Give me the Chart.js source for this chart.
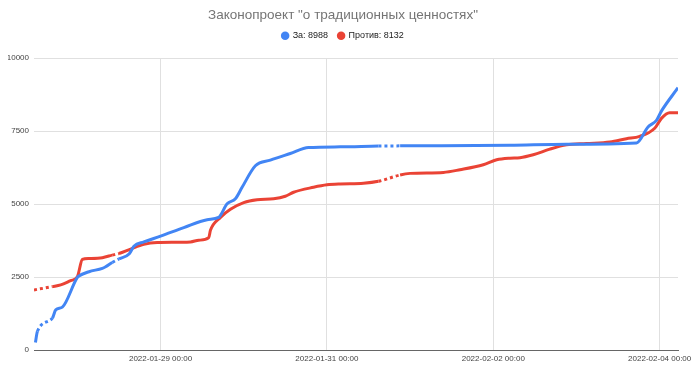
<!DOCTYPE html>
<html>
<head>
<meta charset="utf-8">
<script src="https://cdn.jsdelivr.net/npm/chart.js@4"></script>
<style>
  html, body { margin: 0; padding: 0; background: #fff; }
  #wrap { width: 700px; height: 370px; }
</style>
</head>
<body>
<div id="wrap"><canvas id="chart"></canvas></div>
<script>
// values; null = no data (drawn dotted)
const seriesNames = ["За: 8988", "Против: 8132"];

const zaTimes = [
  "2022-01-27 11:55", "2022-01-27 12:29", "2022-01-27 14:40", "2022-01-27 16:49",
  "2022-01-27 17:46", "2022-01-27 19:41", "2022-01-28 00:01", "2022-01-28 00:28",
  "2022-01-28 03:21", "2022-01-28 07:13", "2022-01-28 08:10", "2022-01-28 10:05",
  "2022-01-28 11:00", "2022-01-28 12:01", "2022-01-28 15:00", "2022-01-28 16:19",
  "2022-01-28 19:11", "2022-01-29 00:00", "2022-01-29 06:43", "2022-01-29 13:27",
  "2022-01-29 16:47", "2022-01-29 19:13", "2022-01-29 21:36", "2022-01-29 23:32",
  "2022-01-30 03:22", "2022-01-30 07:41", "2022-01-30 13:26", "2022-01-30 18:43",
  "2022-01-31 03:50", "2022-01-31 14:52", "2022-01-31 18:00", "2022-01-31 21:07",
  "2022-02-02 04:48", "2022-02-02 21:08", "2022-02-03 17:18", "2022-02-03 20:38",
  "2022-02-03 23:04", "2022-02-04 00:30", "2022-02-04 05:17"
];
const zaValues = [
  255, 640, null, 1095,
  1378, 1470, 2490, 2536,
  2683, 2798, 2853, 3000,
  null, 3120, 3300, 3557,
  3704, 3900, 4194, 4467,
  4545, 5010, 5180, 5576,
  6315, 6508, 6734, 6938,
  6962, 6990, null, 6996,
  7020, 7053, 7095, 7643,
  7870, 8187, 8988
];

const protivTimes = [
  "2022-01-27 11:30", "2022-01-27 14:00", "2022-01-27 16:49", "2022-01-27 19:12",
  "2022-01-27 22:05", "2022-01-28 00:01", "2022-01-28 01:27", "2022-01-28 03:21",
  "2022-01-28 07:13", "2022-01-28 10:05", "2022-01-28 11:00", "2022-01-28 12:01",
  "2022-01-28 15:22", "2022-01-28 19:11", "2022-01-28 23:03", "2022-01-29 08:38",
  "2022-01-29 11:02", "2022-01-29 13:55", "2022-01-29 14:24", "2022-01-29 17:17",
  "2022-01-29 20:10", "2022-01-30 00:00", "2022-01-30 03:51", "2022-01-30 08:38",
  "2022-01-30 12:00", "2022-01-30 14:23", "2022-01-30 20:09", "2022-01-31 00:01",
  "2022-01-31 03:50", "2022-01-31 10:33", "2022-01-31 14:52", "2022-01-31 18:00",
  "2022-01-31 21:07", "2022-02-01 00:00", "2022-02-01 09:36", "2022-02-01 14:24",
  "2022-02-01 21:07", "2022-02-02 00:58", "2022-02-02 04:48", "2022-02-02 07:41",
  "2022-02-02 11:31", "2022-02-02 16:19", "2022-02-02 21:08", "2022-02-03 02:54",
  "2022-02-03 09:37", "2022-02-03 14:25", "2022-02-03 18:15", "2022-02-03 22:34",
  "2022-02-04 00:30", "2022-02-04 02:53", "2022-02-04 05:17"
];
const protivValues = [
  2059, null, 2172, 2230,
  2376, 2512, 3104, 3138,
  3165, 3251, null, 3308,
  3460, 3620, 3680, 3704,
  3762, 3853, 4100, 4540,
  4820, 5050, 5147, 5181,
  5270, 5406, 5576, 5660,
  5690, 5713, 5780, null,
  5998, 6053, 6087, 6178,
  6349, 6520, 6575, 6590,
  6689, 6883, 7030, 7075,
  7130, 7240, 7320, 7598,
  7938, 8129, 8132
];

const xTickLabels = ["2022-01-29 00:00", "2022-01-31 00:00", "2022-02-02 00:00", "2022-02-04 00:00"];
const yTickValues = [0, 2500, 5000, 7500, 10000];

// hours since 2022-01-27 00:00
const BASE = Date.UTC(2022, 0, 27);
function hours(s) {
    return (Date.parse(s.replace(" ", "T") + ":00Z") - BASE) / 36e5;
}

function points(times, values) {
    return times.map((t, i) => ({ x: hours(t), y: values[i] }));
}

const dotted = ctx => (ctx.p0.skip || ctx.p1.skip) ? [3, 3] : undefined;

const FONT = "'Liberation Sans', Arial, sans-serif";

// extra space under the legend, so the plot starts lower
const legendGap = {
    id: "legendGap",
    beforeInit(chart) {
        const fit = chart.legend.fit;
        chart.legend.fit = function () {
            fit.call(this);
            this.height += 8;
        };
    }
};

new Chart(document.getElementById("chart"), {
    type: "line",
    data: {
        datasets: [
            {
                label: seriesNames[0],
                data: points(zaTimes, zaValues),
                borderColor: "#4285f4",
                backgroundColor: "#4285f4",
                borderWidth: 3,
                pointRadius: 0,
                cubicInterpolationMode: "monotone",
                spanGaps: true,
                segment: { borderDash: dotted }
            },
            {
                label: seriesNames[1],
                data: points(protivTimes, protivValues),
                borderColor: "#ea4335",
                backgroundColor: "#ea4335",
                borderWidth: 3,
                pointRadius: 0,
                cubicInterpolationMode: "monotone",
                spanGaps: true,
                segment: { borderDash: dotted }
            }
        ]
    },
    plugins: [legendGap],
    options: {
        responsive: true,
        maintainAspectRatio: false,
        animation: false,
        layout: { padding: { left: 8, right: 22, top: 0, bottom: 0 } },
        plugins: {
            title: {
                display: true,
                text: 'Законопроект "о традиционных ценностях"',
                color: "#757575",
                font: { family: FONT, size: 13.5, weight: "normal" },
                padding: { top: 7, bottom: -2 }
            },
            legend: {
                labels: {
                    usePointStyle: true,
                    pointStyle: "circle",
                    boxWidth: 6,
                    boxHeight: 6,
                    padding: 10,
                    color: "#222",
                    font: { family: FONT, size: 9 },
                    generateLabels: chart =>
                        Chart.defaults.plugins.legend.labels.generateLabels(chart)
                            .map(l => Object.assign(l, { lineWidth: 0 }))
                }
            },
            tooltip: { enabled: false }
        },
        scales: {
            x: {
                type: "linear",
                min: hours("2022-01-27 11:30"),
                max: hours("2022-02-04 05:17"),
                afterBuildTicks: scale => {
                    scale.ticks = xTickLabels.map(l => ({ value: hours(l) }));
                },
                afterFit: scale => { scale.height = 20; },
                ticks: {
                    autoSkip: false,
                    maxRotation: 0,
                    padding: 4,
                    color: "#444",
                    font: { family: FONT, size: 8 },
                    callback: (v, i) => xTickLabels[i]
                },
                grid: { color: "#e0e0e0", drawTicks: false },
                border: { display: true, color: "#666" }
            },
            y: {
                min: 0,
                max: 10000,
                afterBuildTicks: scale => {
                    scale.ticks = yTickValues.map(v => ({ value: v }));
                },
                afterFit: scale => { scale.width = 26; },
                ticks: {
                    padding: 5,
                    color: "#444",
                    font: { family: FONT, size: 8 },
                    callback: v => String(v)
                },
                grid: {
                    color: ctx => ctx.tick && ctx.tick.value === 0 ? "#666" : "#e0e0e0",
                    drawTicks: false
                },
                border: { display: false }
            }
        }
    }
});
</script>
</body>
</html>
